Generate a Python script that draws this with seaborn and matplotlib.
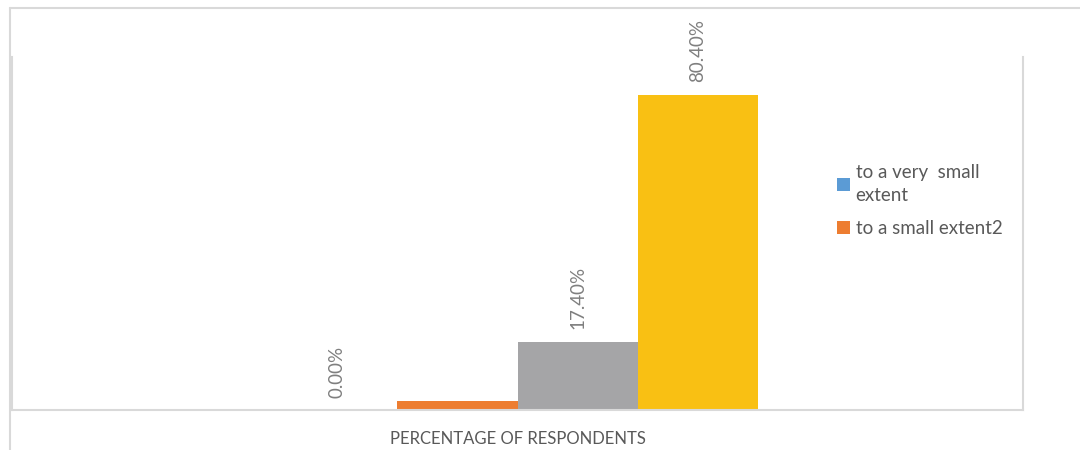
import pandas as pd
import seaborn as sns
import matplotlib.pyplot as plt
from matplotlib.lines import Line2D

# dados
categoria = ['PERCENTAGE OF RESPONDENTS'] * 4
respostas = ['to a very  small\nextent', 'to a small extent2', 'to some extent', 'to a great extent']
valores = [0.0, 2.2, 17.4, 80.4]
rotulos = ['0.00%', '', '17.40%', '80.40%']
cores = ['#5B9BD5', '#ED7D31', '#A5A5A7', '#F9C013']

df = pd.DataFrame({'categoria': categoria, 'resposta': respostas, 'valor': valores})

sns.set_style('white')
plt.rcParams['font.family'] = ['Lato', 'DejaVu Sans']

fig = plt.figure(figsize=(10.8, 4.5), dpi=100)
ax = fig.add_axes([12 / 1080, 40 / 450, (1023 - 12) / 1080, (411 - 58) / 450])

sns.barplot(data=df, x='categoria', y='valor', hue='resposta', palette=cores,
            width=0.475, saturation=1, linewidth=0, ax=ax, legend=True)

ax.set_xlim(-0.5, 0.5)
ax.set_ylim(0, 90)
ax.set_xlabel('')
ax.set_ylabel('')
ax.set_yticks([])
ax.tick_params(axis='x', length=0, pad=15, labelsize=12, labelcolor='#595959')

# rotulos das barras
for c, txt in zip(ax.containers, rotulos):
    ax.bar_label(c, labels=[txt], rotation=90, padding=9, fontsize=13.5, color='#7F7F7F')

for lado in ['left', 'right', 'bottom']:
    ax.spines[lado].set_color('#D9D9D9')
    ax.spines[lado].set_linewidth(1.5)
ax.spines['top'].set_visible(False)

# legenda so com as duas primeiras
h, l = ax.get_legend_handles_labels()
leg = ax.legend(h[:2], l[:2], loc='upper left', bbox_to_anchor=(820 / 1080, 1 - 147 / 450),
                bbox_transform=fig.transFigure, frameon=False, fontsize=13.5,
                labelcolor='#595959', handlelength=0.7, handleheight=0.7,
                handletextpad=0.3, labelspacing=0.85)
for t in leg.get_texts():
    t.set_linespacing(1.45)

# moldura externa
fig.add_artist(Line2D([10 / 1080, 10 / 1080], [0, 1 - 8 / 450], color='#D9D9D9', lw=1.5))
fig.add_artist(Line2D([10 / 1080, 1], [1 - 8 / 450, 1 - 8 / 450], color='#D9D9D9', lw=1.5))

fig.savefig('out.png', dpi=100)
